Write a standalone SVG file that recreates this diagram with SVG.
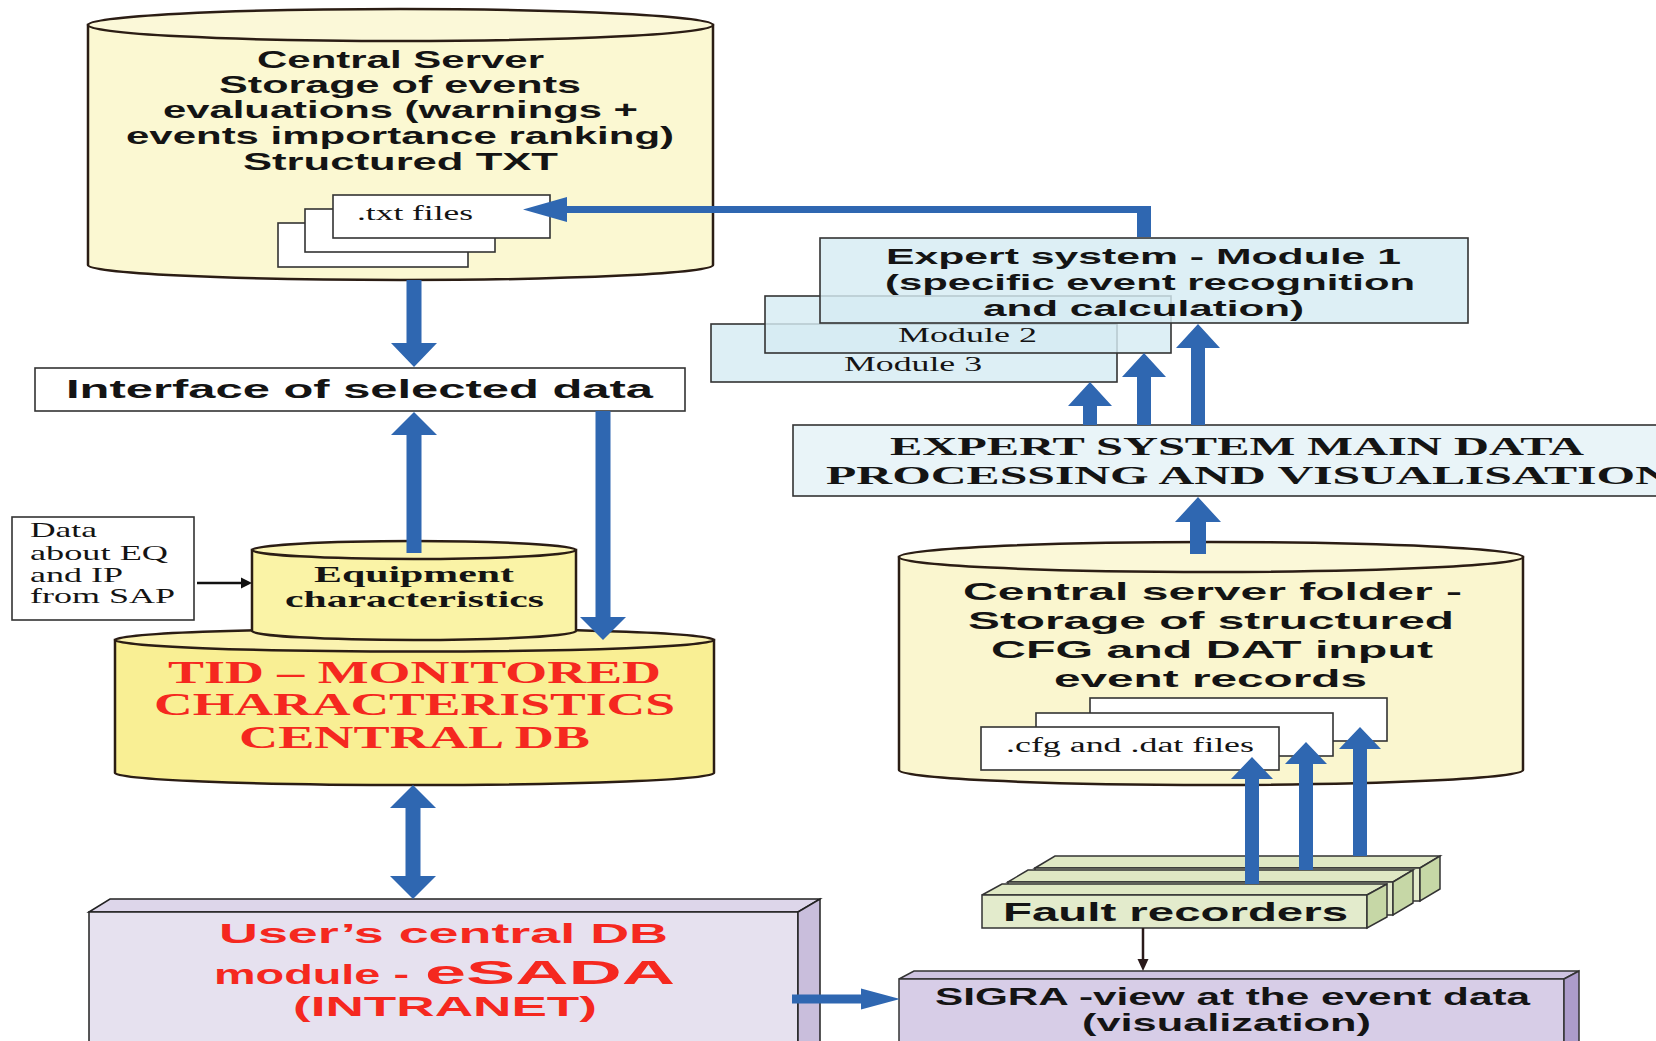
<svg xmlns="http://www.w3.org/2000/svg" width="1656" height="1041" viewBox="0 0 1656 1041">
<defs>
<style>
.cyl{stroke:#2b1d14;stroke-width:2.5}
.box{stroke:#333;stroke-width:1.6}
.file{fill:#fff;stroke:#333;stroke-width:1.6}
.arr{fill:#2f67b1}
.sans{font-family:"Liberation Sans",Arial,sans-serif;font-weight:bold;fill:#141414}
.serif{font-family:"Liberation Serif","Times New Roman",serif;fill:#141414}
.sb{font-family:"Liberation Serif","Times New Roman",serif;font-weight:bold;fill:#141414}
.red{fill:#f5281f}
.mod{fill:#d6ebf3;fill-opacity:0.82;stroke:#333;stroke-width:1.6}
</style>
</defs>
<rect width="1656" height="1041" fill="#fff"/>

<g id="central-server">
<path class="cyl" d="M88,25 L88,265 A312.5,15 0 0 0 713,265 L713,25 Z" fill="#fbf8d2"/>
<ellipse class="cyl" cx="400.5" cy="25" rx="312.5" ry="16" fill="#fbf8d8"/>
<g font-size="24" class="sans">
<text x="257" y="68" textLength="287" lengthAdjust="spacingAndGlyphs">Central Server</text>
<text x="219" y="93" textLength="362" lengthAdjust="spacingAndGlyphs">Storage of  events</text>
<text x="163" y="118" textLength="475" lengthAdjust="spacingAndGlyphs">evaluations (warnings +</text>
<text x="126" y="144" textLength="548" lengthAdjust="spacingAndGlyphs">events importance ranking)</text>
<text x="243" y="170" textLength="315" lengthAdjust="spacingAndGlyphs">Structured  TXT</text>
</g>
<rect class="file" x="278" y="223" width="190" height="44"/>
<rect class="file" x="305" y="209" width="190" height="43"/>
<rect class="file" x="333" y="195" width="217" height="43"/>
<text class="serif" x="357" y="220" font-size="20" textLength="116" lengthAdjust="spacingAndGlyphs">.txt files</text>
</g>

<g id="interface">
<rect class="box" x="35" y="368" width="650" height="43" fill="#fff"/>
<text class="sans" x="66" y="398" font-size="26" textLength="587" lengthAdjust="spacingAndGlyphs">Interface of  selected data</text>
</g>

<g id="sap-data">
<rect class="box" x="12" y="517" width="182" height="103" fill="#fff"/>
<g class="serif" font-size="21">
<text x="30" y="537" textLength="67" lengthAdjust="spacingAndGlyphs">Data</text>
<text x="30" y="560" textLength="138" lengthAdjust="spacingAndGlyphs">about EQ</text>
<text x="30" y="582" textLength="93" lengthAdjust="spacingAndGlyphs">and IP</text>
<text x="30" y="603" textLength="145" lengthAdjust="spacingAndGlyphs">from SAP</text>
</g>
</g>

<g id="tid-db">
<path class="cyl" d="M115,640 L115,773 A299.5,12 0 0 0 714,773 L714,640 Z" fill="#f9ef94"/>
<ellipse class="cyl" cx="414.5" cy="640" rx="299.5" ry="11.5" fill="#fbf3b0"/>
<g class="sb red" font-size="31">
<text x="168" y="683" textLength="493" lengthAdjust="spacingAndGlyphs" class="red">TID – MONITORED</text>
<text x="154" y="715" textLength="521" lengthAdjust="spacingAndGlyphs" class="red">CHARACTERISTICS</text>
<text x="239" y="748" textLength="351" lengthAdjust="spacingAndGlyphs" class="red">CENTRAL DB</text>
</g>
</g>

<g id="equipment">
<path class="cyl" d="M252,550 L252,631 A162,9 0 0 0 576,631 L576,550 Z" fill="#faf3a6"/>
<ellipse class="cyl" cx="414" cy="550" rx="162" ry="9" fill="#fbf5b4"/>
<text class="sb" x="314" y="582" font-size="23" textLength="200" lengthAdjust="spacingAndGlyphs">Equipment</text>
<text class="sb" x="285" y="607" font-size="23" textLength="259" lengthAdjust="spacingAndGlyphs">characteristics</text>
</g>

<g id="modules">
<rect class="mod" x="711" y="324" width="406" height="58"/>
<text class="serif" x="844" y="371" font-size="20" textLength="138" lengthAdjust="spacingAndGlyphs">Module 3</text>
<rect class="mod" x="765" y="296" width="406" height="57"/>
<text class="serif" x="898" y="342" font-size="20" textLength="139" lengthAdjust="spacingAndGlyphs">Module 2</text>
</g>
<g id="module1">
<rect class="mod" x="820" y="238" width="648" height="85"/>
<g class="sans" font-size="22">
<text x="886" y="264" textLength="515" lengthAdjust="spacingAndGlyphs">Expert system - Module  1</text>
<text x="885" y="290" textLength="530" lengthAdjust="spacingAndGlyphs">(specific event recognition</text>
<text x="983" y="316" textLength="321" lengthAdjust="spacingAndGlyphs">and calculation)</text>
</g>
</g>

<g id="expert-main">
<rect class="box" x="793" y="425" width="880" height="71" fill="#e9f4f8"/>
<text class="sb" x="890" y="455" font-size="26" textLength="694" lengthAdjust="spacingAndGlyphs">EXPERT SYSTEM MAIN DATA</text>
<text class="sb" x="826" y="484" font-size="26" textLength="845" lengthAdjust="spacingAndGlyphs">PROCESSING AND VISUALISATION</text>
</g>

<g id="server-folder">
<path class="cyl" d="M899,557 L899,770 A312,15 0 0 0 1523,770 L1523,557 Z" fill="#faf6cf"/>
<ellipse class="cyl" cx="1211" cy="557" rx="312" ry="15" fill="#fbf8d8"/>
<g class="sans" font-size="24">
<text x="963" y="600" textLength="499" lengthAdjust="spacingAndGlyphs">Central server folder -</text>
<text x="968" y="629" textLength="486" lengthAdjust="spacingAndGlyphs">Storage of structured</text>
<text x="991" y="658" textLength="442" lengthAdjust="spacingAndGlyphs">CFG and DAT input</text>
<text x="1054" y="687" textLength="313" lengthAdjust="spacingAndGlyphs">event records</text>
</g>
<rect class="file" x="1090" y="698" width="297" height="43"/>
<rect class="file" x="1036" y="713" width="297" height="43"/>
<rect class="file" x="981" y="727" width="298" height="43"/>
<text class="serif" x="1006" y="752" font-size="20" textLength="248" lengthAdjust="spacingAndGlyphs">.cfg and .dat files</text>
</g>

<g id="fault-recorders" stroke="#333" stroke-width="1.5">
<polygon points="1035,868 1055,856 1440,856 1420,868" fill="#dfe8c4"/>
<rect x="1035" y="868" width="385" height="33" fill="#e3ebcc"/>
<polygon points="1420,868 1440,856 1440,889 1420,901" fill="#c6d7a6"/>
<polygon points="1008,882 1028,870 1413,870 1393,882" fill="#dfe8c4"/>
<rect x="1008" y="882" width="385" height="33" fill="#e3ebcc"/>
<polygon points="1393,882 1413,870 1413,903 1393,915" fill="#c6d7a6"/>
<polygon points="982,895 1002,884 1387,884 1367,895" fill="#dfe8c4"/>
<rect x="982" y="895" width="385" height="33" fill="#e3ebcc"/>
<polygon points="1367,895 1387,884 1387,917 1367,928" fill="#c6d7a6"/>
<text class="sans" x="1003" y="921" font-size="26" stroke="none" textLength="345" lengthAdjust="spacingAndGlyphs">Fault recorders</text>
</g>

<g id="esada" stroke="#222" stroke-width="1.5">
<polygon points="89,912 110,899 820,899 798,912" fill="#ddd6ea"/>
<rect x="89" y="912" width="709" height="140" fill="#e6e1ef"/>
<polygon points="798,912 820,899 820,1052 798,1052" fill="#c9bedc"/>
<g class="sans" stroke="none">
<text class="red" x="219" y="943" font-size="28" textLength="449" lengthAdjust="spacingAndGlyphs">User’s central DB</text>
<text class="red" x="214" y="984" font-size="28" textLength="195" lengthAdjust="spacingAndGlyphs">module -</text>
<text class="red" x="425" y="984" font-size="34" textLength="250" lengthAdjust="spacingAndGlyphs">eSADA</text>
<text class="red" x="293" y="1016" font-size="28" textLength="304" lengthAdjust="spacingAndGlyphs">(INTRANET)</text>
</g>
</g>

<g id="sigra" stroke="#333" stroke-width="1.5">
<polygon points="899,979 914,971 1579,971 1564,979" fill="#cfc4e2"/>
<rect x="899" y="979" width="665" height="80" fill="#d7cde7"/>
<polygon points="1564,979 1579,971 1579,1059 1564,1059" fill="#ad9ccb"/>
<g class="sans" stroke="none" font-size="23">
<text x="935" y="1005" textLength="595" lengthAdjust="spacingAndGlyphs">SIGRA -view at the event data</text>
<text x="1082" y="1031" textLength="289" lengthAdjust="spacingAndGlyphs">(visualization)</text>
</g>
</g>

<g id="connectors">
<path class="arr" d="M406.5,280 L406.5,343 L391,343 L414,367 L437,343 L421.5,343 L421.5,280 Z"/>
<path class="arr" d="M406.5,553 L406.5,435 L391,435 L414,412 L437,435 L421.5,435 L421.5,553 Z"/>
<path class="arr" d="M595.5,411 L595.5,617 L580,617 L603,640 L626,617 L610.5,617 L610.5,411 Z"/>
<path class="arr" d="M413,785 L436,808 L420.5,808 L420.5,876 L436,876 L413,899 L390,876 L405.5,876 L405.5,808 L390,808 Z"/>
<path class="arr" d="M1151,237 L1151,206 L567,206 L567,197 L523,209.5 L567,222 L567,213 L1137,213 L1137,237 Z"/>
<path class="arr" d="M1083,425 L1083,406 L1068,406 L1090,382 L1112,406 L1097,406 L1097,425 Z"/>
<path class="arr" d="M1137,425 L1137,377 L1122,377 L1144,353 L1166,377 L1151,377 L1151,425 Z"/>
<path class="arr" d="M1191,425 L1191,348 L1176,348 L1198,324 L1220,348 L1205,348 L1205,425 Z"/>
<path class="arr" d="M1190,554 L1190,522 L1175,522 L1198,497 L1221,522 L1206,522 L1206,554 Z"/>
<path class="arr" d="M1245,884 L1245,779 L1231,779 L1252,757 L1273,779 L1259,779 L1259,884 Z"/>
<path class="arr" d="M1299,870 L1299,764 L1285,764 L1306,742 L1327,764 L1313,764 L1313,870 Z"/>
<path class="arr" d="M1353,856 L1353,749 L1339,749 L1360,727 L1381,749 L1367,749 L1367,856 Z"/>
<path class="arr" d="M792,994.5 L861,994.5 L861,988.5 L900,999 L861,1009.5 L861,1003.5 L792,1003.5 Z"/>
<line x1="197" y1="583" x2="243" y2="583" stroke="#111" stroke-width="2.5"/>
<polygon points="241,577.5 252,583 241,588.5" fill="#111"/>
<line x1="1143" y1="928" x2="1143" y2="961" stroke="#2a1a1a" stroke-width="2.5"/>
<polygon points="1137.5,959 1143,971 1148.5,959" fill="#2a1a1a"/>
</g>
</svg>
